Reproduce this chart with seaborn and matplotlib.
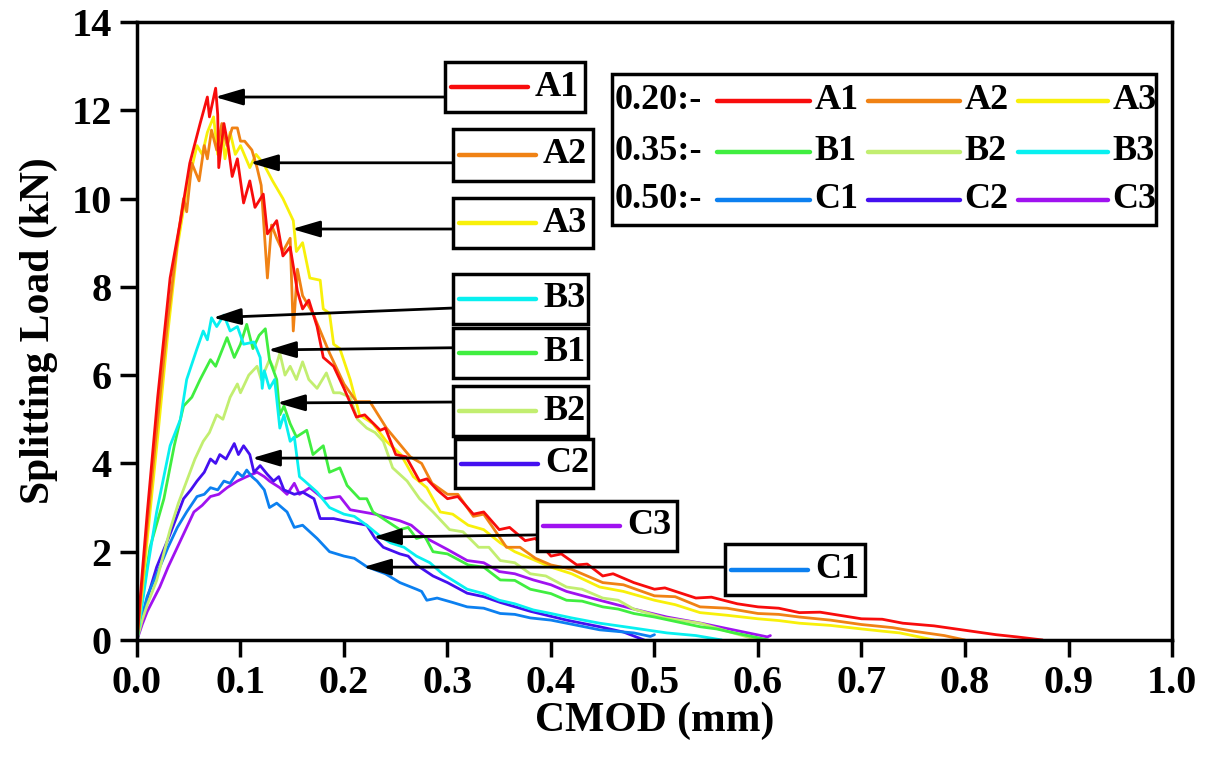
import pandas as pd
import matplotlib.pyplot as plt
import seaborn as sns
from matplotlib.patches import Rectangle

# ---------------------------------------------------------------
# curve data (CMOD in mm, load in kN)
# ---------------------------------------------------------------
a1_x = [0, 0.005, 0.01, 0.02, 0.032, 0.042, 0.051, 0.061, 0.068, 0.07, 0.076, 0.078, 0.079, 0.084, 0.088,
        0.092, 0.097, 0.103, 0.109, 0.114, 0.122, 0.126, 0.135, 0.141, 0.148, 0.155, 0.16, 0.166, 0.174,
        0.18, 0.19, 0.2, 0.212, 0.22, 0.235, 0.24, 0.25, 0.26, 0.273, 0.28, 0.29, 0.3, 0.31, 0.325, 0.335,
        0.35, 0.36, 0.375, 0.385, 0.4, 0.41, 0.425, 0.435, 0.45, 0.46, 0.48, 0.5, 0.51, 0.54, 0.555, 0.58,
        0.6, 0.62, 0.64, 0.66, 0.7, 0.72, 0.74, 0.77, 0.8, 0.83, 0.85, 0.875]
a1_y = [0, 1.5, 2.9, 5.5, 8.2, 9.5, 10.8, 11.7, 12.3, 11.85, 12.5, 11.9, 10.7, 11.7, 11.2,
        10.5, 10.9, 9.9, 10.4, 9.8, 10.1, 9.2, 9.5, 8.7, 8.9, 7.9, 7.5, 7.7, 7.1,
        6.4, 6.2, 5.7, 5.05, 5.1, 4.75, 4.8, 4.2, 4.15, 3.6, 3.65, 3.4, 3.2, 3.25, 2.85, 2.9,
        2.5, 2.55, 2.25, 2.3, 1.9, 1.95, 1.7, 1.72, 1.45, 1.5, 1.3, 1.15, 1.18, 0.95, 0.97, 0.82,
        0.75, 0.72, 0.62, 0.63, 0.48, 0.47, 0.38, 0.32, 0.22, 0.12, 0.07, 0.0]

a2_x = [0, 0.005, 0.01, 0.02, 0.03, 0.04, 0.045, 0.048, 0.053, 0.06, 0.065, 0.068, 0.072, 0.077, 0.082,
        0.087, 0.092, 0.097, 0.1, 0.104, 0.111, 0.116, 0.12, 0.126, 0.13, 0.135, 0.141, 0.148, 0.151,
        0.155, 0.16, 0.17, 0.186, 0.2, 0.212, 0.225, 0.241, 0.264, 0.275, 0.285, 0.3, 0.31, 0.325, 0.335,
        0.357, 0.37, 0.385, 0.4, 0.42, 0.45, 0.47, 0.5, 0.52, 0.544, 0.57, 0.6, 0.62, 0.64, 0.67, 0.7,
        0.73, 0.75, 0.78, 0.8]
a2_y = [0, 1.3, 2.6, 5.0, 7.3, 9.2, 10.0, 9.7, 10.8, 10.4, 11.2, 10.9, 11.55, 11.1, 11.7,
        11.2, 11.6, 11.6, 11.3, 11.3, 11.1, 10.7, 10.3, 8.2, 9.4, 9.1, 8.8, 9.1, 7.0,
        8.4, 7.8, 7.4, 6.5, 5.8, 5.4, 5.4, 4.8, 4.15, 4.0, 3.55, 3.3, 3.3, 2.8, 2.85,
        2.1, 2.1, 1.85, 1.7, 1.6, 1.3, 1.25, 1.0, 0.98, 0.75, 0.72, 0.6, 0.58, 0.52, 0.45, 0.35,
        0.28, 0.2, 0.1, 0.0]

a3_x = [0, 0.005, 0.01, 0.02, 0.03, 0.039, 0.048, 0.058, 0.063, 0.068, 0.074, 0.078, 0.082, 0.085, 0.09,
        0.095, 0.1, 0.109, 0.115, 0.122, 0.131, 0.141, 0.151, 0.154, 0.16, 0.167, 0.177, 0.18, 0.186,
        0.19, 0.196, 0.206, 0.215, 0.228, 0.241, 0.255, 0.267, 0.28, 0.293, 0.305, 0.32, 0.335, 0.351,
        0.365, 0.38, 0.4, 0.42, 0.447, 0.47, 0.5, 0.52, 0.544, 0.57, 0.6, 0.62, 0.64, 0.67, 0.7, 0.72,
        0.737, 0.77]
a3_y = [0, 1.1, 2.3, 4.6, 7.0, 8.9, 10.2, 11.2, 11.0, 11.5, 11.85, 11.0, 11.6, 10.9, 11.5,
        11.0, 11.2, 10.7, 11.0, 10.8, 10.4, 10.0, 9.5, 8.8, 9.0, 8.2, 8.15, 7.5, 7.4,
        6.7, 6.6, 5.9, 5.1, 4.9, 4.5, 4.2, 3.7, 3.45, 2.9, 2.85, 2.6, 2.5, 2.2,
        2.0, 1.85, 1.65, 1.5, 1.2, 1.1, 0.9, 0.8, 0.62, 0.56, 0.48, 0.44, 0.38, 0.33, 0.25, 0.2,
        0.16, 0.0]

b1_x = [0, 0.005, 0.0126, 0.026, 0.036, 0.045, 0.053, 0.061, 0.071, 0.076, 0.087, 0.094, 0.1, 0.106, 0.112,
        0.118, 0.124, 0.128, 0.135, 0.138, 0.142, 0.148, 0.154, 0.164, 0.17, 0.18, 0.186, 0.196, 0.203,
        0.215, 0.222, 0.228, 0.241, 0.254, 0.262, 0.27, 0.278, 0.286, 0.3, 0.32, 0.335, 0.351, 0.365,
        0.38, 0.4, 0.415, 0.43, 0.45, 0.465, 0.48, 0.5, 0.52, 0.544, 0.56, 0.575, 0.59, 0.61]
b1_y = [0, 0.9, 2.1, 3.2, 4.4, 5.3, 5.5, 5.9, 6.35, 6.2, 6.85, 6.4, 6.7, 7.15, 6.6,
        6.9, 7.05, 6.35, 5.9, 5.1, 5.3, 4.9, 4.6, 4.75, 4.2, 4.4, 3.8, 3.9, 3.5,
        3.2, 3.2, 2.9, 2.7, 2.5, 2.55, 2.3, 2.35, 2.0, 1.95, 1.7, 1.65, 1.36, 1.35,
        1.15, 1.05, 0.9, 0.88, 0.75, 0.7, 0.6, 0.52, 0.42, 0.3, 0.25, 0.17, 0.1, 0.0]

b2_x = [0, 0.005, 0.01, 0.019, 0.032, 0.04, 0.048, 0.056, 0.064, 0.07, 0.077, 0.083, 0.09, 0.097, 0.1,
        0.108, 0.116, 0.12, 0.128, 0.133, 0.138, 0.143, 0.148, 0.154, 0.16, 0.166, 0.174, 0.183, 0.19,
        0.196, 0.206, 0.213, 0.222, 0.23, 0.238, 0.247, 0.261, 0.273, 0.286, 0.302, 0.315, 0.33, 0.34,
        0.351, 0.365, 0.38, 0.395, 0.415, 0.43, 0.45, 0.465, 0.48, 0.51, 0.544, 0.57, 0.6]
b2_y = [0, 0.45, 0.8, 1.35, 2.5, 3.1, 3.6, 4.1, 4.5, 4.7, 5.1, 5.0, 5.5, 5.8, 5.6,
        6.0, 6.2, 5.9, 6.35, 6.1, 6.5, 6.0, 6.2, 5.9, 6.3, 5.9, 5.7, 6.05, 5.6,
        5.6, 5.5, 5.0, 4.8, 4.7, 4.5, 3.9, 3.6, 3.2, 2.9, 2.5, 2.45, 2.1, 2.1,
        1.8, 1.75, 1.5, 1.45, 1.2, 1.15, 0.95, 0.9, 0.7, 0.5, 0.38, 0.2, 0.0]

b3_x = [0, 0.005, 0.01, 0.019, 0.032, 0.042, 0.048, 0.058, 0.064, 0.068, 0.072, 0.077, 0.084, 0.09, 0.097,
        0.103, 0.113, 0.119, 0.121, 0.123, 0.128, 0.133, 0.138, 0.142, 0.148, 0.152, 0.157, 0.162, 0.174,
        0.186, 0.2, 0.21, 0.222, 0.235, 0.245, 0.258, 0.27, 0.283, 0.295, 0.319, 0.335, 0.35, 0.365,
        0.383, 0.4, 0.42, 0.447, 0.48, 0.512, 0.54, 0.565]
b3_y = [0, 0.8, 1.6, 2.9, 4.4, 5.0, 5.9, 6.6, 7.0, 6.8, 7.3, 7.1, 7.36, 7.0, 7.1,
        6.7, 6.75, 6.4, 5.7, 6.1, 5.7, 5.9, 4.8, 5.1, 4.5, 4.6, 3.7, 3.6, 3.35,
        3.0, 2.85, 2.8, 2.6, 2.35, 2.2, 2.1, 1.9, 1.75, 1.5, 1.15, 1.05, 0.9, 0.82,
        0.68, 0.6, 0.5, 0.38, 0.27, 0.16, 0.1, 0.0]

c1_x = [0, 0.005, 0.01, 0.022, 0.03, 0.039, 0.048, 0.058, 0.065, 0.071, 0.078, 0.084, 0.09, 0.097, 0.102,
        0.106, 0.111, 0.116, 0.123, 0.128, 0.135, 0.145, 0.152, 0.16, 0.174, 0.186, 0.2, 0.21, 0.222,
        0.24, 0.254, 0.27, 0.275, 0.28, 0.29, 0.305, 0.319, 0.335, 0.351, 0.365, 0.38, 0.4, 0.415, 0.447,
        0.48, 0.496, 0.5]
c1_y = [0, 0.55, 1.0, 1.65, 2.1, 2.55, 2.9, 3.25, 3.3, 3.45, 3.4, 3.6, 3.55, 3.8, 3.7,
        3.85, 3.7, 3.6, 3.4, 3.0, 3.1, 2.9, 2.55, 2.6, 2.3, 2.0, 1.9, 1.85, 1.66,
        1.5, 1.3, 1.15, 1.1, 0.9, 0.95, 0.85, 0.75, 0.72, 0.6, 0.58, 0.5, 0.45, 0.38, 0.23,
        0.16, 0.08, 0.12]

c2_x = [0, 0.005, 0.01, 0.019, 0.032, 0.045, 0.052, 0.058, 0.065, 0.071, 0.076, 0.08, 0.086, 0.094, 0.098,
        0.103, 0.109, 0.113, 0.119, 0.126, 0.132, 0.137, 0.142, 0.152, 0.16, 0.171, 0.177, 0.19, 0.2,
        0.222, 0.23, 0.238, 0.254, 0.262, 0.27, 0.286, 0.3, 0.319, 0.335, 0.351, 0.38, 0.415, 0.447,
        0.47, 0.49]
c2_y = [0, 0.5, 0.95, 1.65, 2.4, 3.2, 3.4, 3.6, 3.8, 4.1, 4.0, 4.2, 4.1, 4.45, 4.2,
        4.4, 4.2, 3.8, 3.95, 3.75, 3.6, 3.7, 3.4, 3.3, 3.35, 3.2, 2.75, 2.75, 2.7,
        2.6, 2.3, 2.1, 1.95, 1.9, 1.7, 1.45, 1.3, 1.06, 0.98, 0.85, 0.65, 0.45, 0.3,
        0.18, 0.0]

c3_x = [0, 0.005, 0.01, 0.022, 0.03, 0.039, 0.047, 0.055, 0.063, 0.071, 0.079, 0.087, 0.097, 0.106, 0.116,
        0.123, 0.128, 0.138, 0.145, 0.152, 0.157, 0.167, 0.18, 0.196, 0.206, 0.23, 0.254, 0.265, 0.28,
        0.3, 0.319, 0.335, 0.35, 0.365, 0.383, 0.4, 0.415, 0.447, 0.48, 0.512, 0.545, 0.576, 0.609, 0.612]
c3_y = [0, 0.35, 0.65, 1.2, 1.65, 2.1, 2.5, 2.9, 3.05, 3.25, 3.3, 3.45, 3.6, 3.7, 3.8,
        3.7, 3.6, 3.45, 3.3, 3.55, 3.3, 3.45, 3.2, 3.25, 2.95, 2.85, 2.7, 2.6, 2.3,
        2.05, 1.8, 1.75, 1.55, 1.5, 1.36, 1.25, 1.1, 0.9, 0.7, 0.52, 0.38, 0.23, 0.07, 0.1]

series = {'A1': (a1_x, a1_y), 'A2': (a2_x, a2_y), 'A3': (a3_x, a3_y),
          'B1': (b1_x, b1_y), 'B2': (b2_x, b2_y), 'B3': (b3_x, b3_y),
          'C1': (c1_x, c1_y), 'C2': (c2_x, c2_y), 'C3': (c3_x, c3_y)}

cores = {'A1': '#f80c0c', 'A2': '#f08214', 'A3': '#f8f00a',
         'B1': '#40ee40', 'B2': '#c2ee70', 'B3': '#08f0f0',
         'C1': '#0c80f0', 'C2': '#4410f0', 'C3': '#a012f0'}

# row titles of the legend (w/c ratio)
grupos = ['0.20:-', '0.35:-', '0.50:-']

linhas = []
for nome, (xs, ys) in series.items():
    for xv, yv in zip(xs, ys):
        linhas.append({'CMOD': xv, 'Load': yv, 'Serie': nome})
df = pd.DataFrame(linhas)

# ---------------------------------------------------------------
# figure
# ---------------------------------------------------------------
sns.set_theme(style="white")
plt.rcParams['font.family'] = ['Liberation Serif', 'DejaVu Serif']
plt.rcParams['font.weight'] = 'bold'
plt.rcParams['text.color'] = 'black'
plt.rcParams['axes.labelcolor'] = 'black'
plt.rcParams['xtick.color'] = 'black'
plt.rcParams['ytick.color'] = 'black'

fig = plt.figure(figsize=(12.08, 7.58), dpi=100)
ax = fig.add_axes([0.1134, 0.1557, 0.8568, 0.8153])

ordem = ['C3', 'C2', 'C1', 'B2', 'B1', 'B3', 'A3', 'A2', 'A1']
sns.lineplot(data=df, x='CMOD', y='Load', hue='Serie', hue_order=ordem, palette=cores,
             sort=False, estimator=None, linewidth=2.0, legend=False, ax=ax)

ax.set_xlim(0, 1.0)
ax.set_ylim(0, 14)
ax.set_xticks([i / 10 for i in range(11)])
ax.set_xticklabels([f'{i / 10:.1f}' for i in range(11)])
ax.set_yticks(range(0, 15, 2))
ax.tick_params(axis='both', direction='out', length=12, width=2.5, labelsize=29, pad=6,
               bottom=True, left=True, top=False, right=False, colors='black')
for lab in ax.get_xticklabels() + ax.get_yticklabels():
    lab.set_fontweight('bold')
for sp in ax.spines.values():
    sp.set_linewidth(2.5)
    sp.set_color('black')
ax.set_xlabel('CMOD (mm)', fontsize=30, fontweight='bold', labelpad=0, color='black')
ax.set_ylabel('Splitting Load (kN)', fontsize=30, fontweight='bold', labelpad=10, color='black')

# ---------------------------------------------------------------
# labelled boxes with arrows pointing to each curve
# (box left, box right, box bottom, box top, arrow y, arrow tip x, arrow tip y)
# ---------------------------------------------------------------
caixas = {
    'A1': (0.2976, 0.4329, 11.96, 13.09, 12.30, 0.0754, 12.30),
    'A2': (0.3053, 0.4406, 10.40, 11.58, 10.81, 0.1092, 10.81),
    'A3': (0.3053, 0.4406, 8.88, 10.01, 9.31, 0.1498, 9.31),
    'B3': (0.3053, 0.4357, 7.16, 8.29, 7.52, 0.0734, 7.30),
    'B1': (0.3053, 0.4357, 5.94, 7.07, 6.62, 0.1266, 6.57),
    'B2': (0.3053, 0.4357, 4.62, 5.75, 5.39, 0.1353, 5.37),
    'C2': (0.3072, 0.4406, 3.44, 4.55, 4.12, 0.1111, 4.12),
    'C3': (0.3865, 0.5217, 2.02, 3.15, 2.38, 0.2280, 2.33),
    'C1': (0.5681, 0.7034, 1.02, 2.17, 1.65, 0.2184, 1.65),
}
for nome, (x0, x1, y0, y1, ya, xt, yt) in caixas.items():
    ax.add_patch(Rectangle((x0, y0), x1 - x0, y1 - y0, facecolor='white', edgecolor='black',
                           linewidth=2.5, zorder=5))
    ym = (y0 + y1) / 2
    ax.plot([x0 + 0.006, x0 + 0.080], [ym, ym], color=cores[nome], linewidth=3.2,
            solid_capstyle='round', zorder=6)
    ax.text(x0 + 0.087, ym, nome, fontsize=26, fontweight='bold', va='center', ha='left', zorder=6)
    ax.annotate('', xy=(xt, yt), xytext=(x0, ya),
                arrowprops=dict(arrowstyle='-|>,head_length=0.85,head_width=0.25', color='black',
                                lw=2.0, shrinkA=0, shrinkB=0, mutation_scale=20), zorder=7)

# ---------------------------------------------------------------
# legend panel drawn by hand (upper right)
# ---------------------------------------------------------------
ax.add_patch(Rectangle((0.4589, 9.40), 0.9845 - 0.4589, 12.82 - 9.40, facecolor='white',
                       edgecolor='black', linewidth=2.5, zorder=5))
linhas_y = [12.21, 11.06, 9.97]
segmentos = [(0.5604, 0.6502), (0.7063, 0.7952), (0.8512, 0.9382)]
letras = ['A', 'B', 'C']
for r, (grupo, letra) in enumerate(zip(grupos, letras)):
    yr = linhas_y[r]
    ax.text(0.4618, yr, grupo, fontsize=26, fontweight='bold', va='center', ha='left', zorder=6)
    for k, (s0, s1) in enumerate(segmentos):
        nome = f'{letra}{k + 1}'
        ax.plot([s0, s1], [yr, yr], color=cores[nome], linewidth=3.2, solid_capstyle='round', zorder=6)
        ax.text(s1 + 0.0045, yr, nome, fontsize=26, fontweight='bold', va='center', ha='left', zorder=6)

plt.savefig('out.png', dpi=100)
